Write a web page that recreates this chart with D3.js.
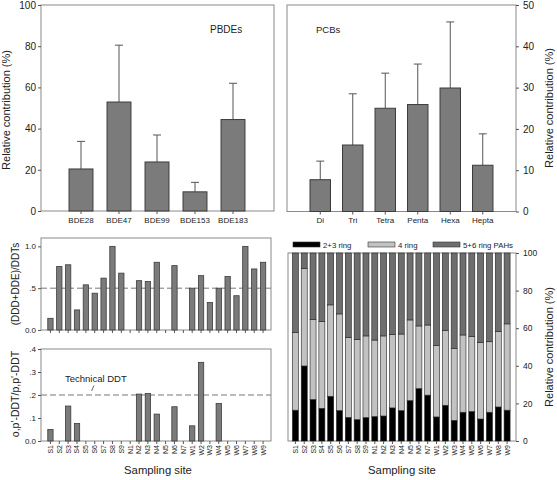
<!DOCTYPE html>
<html><head><meta charset="utf-8">
<script src="https://cdn.jsdelivr.net/npm/d3@7"></script>
<style>
body{margin:0;background:#fff;}
svg{display:block;font-family:"Liberation Sans",Arial,sans-serif;}
</style></head>
<body><svg id="c" width="557" height="480"></svg>
<script>
// ---------- data ----------
const pbdeCats = ["BDE28","BDE47","BDE99","BDE153","BDE183"];
const pbdeMean = [20.4, 52.9, 23.8, 9.3, 44.4];
const pbdeErr  = [13.4, 27.6, 13.1, 4.6, 17.6];
const pbdeTicks = [0,20,40,60,80,100];

const pcbCats = ["Di","Tri","Tetra","Penta","Hexa","Hepta"];
const pcbMean = [7.7, 16.1, 25.0, 25.9, 29.9, 11.2];
const pcbErr  = [4.5, 12.4, 8.5, 9.8, 16.0, 7.6];
const pcbTicks = [0,10,20,30,40,50];

const sites = ["S1","S2","S3","S4","S5","S6","S7","S8","S9","N1","N2","N3","N4","N5","N6","N7","W1","W2","W3","W4","W5","W6","W7","W8","W9"];
const dddRatio = [0.14,0.76,0.78,0.24,0.54,0.44,0.62,1.0,0.68, null,0.59,0.58,0.81,null,0.77,null, 0.50,0.65,0.33,0.50,0.64,0.41,1.0,0.73,0.81];
const dddTicks = [0,0.5,1.0];
const dddTickLabels = ["0.0",".5","1.0"];
const opRatio = [0.05,null,0.152,0.076,null,null,null,null,null, null,0.204,0.207,0.117,null,0.149,null, 0.066,0.342,null,0.163,null,null,null,null,null];
const opTicks = [0,0.1,0.2,0.3,0.4];
const opTickLabels = ["0.0",".1",".2",".3",".4"];

const ringKeys = ["2+3 ring","4 ring","5+6 ring PAHs"];
const ring23 = [16.4,39.9,22.1,17.4,23.8,16.2,12.6,11.4,12.5, 13.0,13.3,17.6,16.2,21.5,27.9,24.4, 12.8,19.0,11.0,15.3,15.7,11.7,15.3,18.1,16.4];
const ring4  = [41.3,51.9,42.5,46.1,48.6,51.4,42.4,42.5,43.4, 40.7,42.6,39.0,40.7,42.9,33.3,37.3, 37.9,39.9,38.1,41.1,39.8,40.6,37.5,40.1,45.9];
const ring56 = [42.3,8.2,35.4,36.5,27.6,32.4,45.0,46.1,44.1, 46.3,44.1,43.4,43.1,35.6,38.8,38.3, 49.3,41.1,50.9,43.6,44.5,47.7,47.2,41.8,37.7];
const pahTicks = [0,20,40,60,80,100];

// ---------- styles ----------
const BAR = "#7b7b7b", BARSTROKE = "#3c3c3c", FRAME = "#8a8a8a", TICK = "#555";
const svg = d3.select("#c");

function frame(x0,x1,y0,y1){
  svg.append("rect").attr("x",x0).attr("y",y0).attr("width",x1-x0).attr("height",y1-y0)
    .attr("fill","none").attr("stroke",FRAME).attr("stroke-width",1);
}
function yAxisLeft(y, x, ticks, labels, fs){
  const g = svg.append("g").attr("transform",`translate(${x},0)`);
  const ax = d3.axisLeft(y).tickValues(ticks).tickSize(3).tickPadding(2);
  if(labels) ax.tickFormat((d,i)=>labels[i]);
  g.call(ax);
  g.select(".domain").remove();
  g.selectAll("line").attr("stroke",TICK);
  g.selectAll("text").attr("font-size",fs).attr("fill","#222").attr("font-family","Liberation Sans, Arial, sans-serif");
}
function yAxisRight(y, x, ticks, fs){
  const g = svg.append("g").attr("transform",`translate(${x},0)`);
  g.call(d3.axisRight(y).tickValues(ticks).tickSize(3).tickPadding(4));
  g.select(".domain").remove();
  g.selectAll("line").attr("stroke",TICK);
  g.selectAll("text").attr("font-size",fs).attr("fill","#222").attr("font-family","Liberation Sans, Arial, sans-serif");
}
function xTicks(x, yb, showLabels, fs, rotate){
  const g = svg.append("g").attr("transform",`translate(0,${yb})`);
  g.call(d3.axisBottom(x).tickSize(3).tickPadding(3));
  g.select(".domain").remove();
  g.selectAll("line").attr("stroke",TICK);
  const t = g.selectAll("text").attr("font-size",fs).attr("fill","#222").attr("font-family","Liberation Sans, Arial, sans-serif");
  if(!showLabels) t.remove();
  else if(rotate){
    t.attr("transform","rotate(-90)").attr("text-anchor","end").attr("x",-4).attr("y",0).attr("dy","0.35em");
  }
}
function vTitle(txt, x, y, fs){
  svg.append("text").attr("transform",`translate(${x},${y}) rotate(-90)`)
    .attr("text-anchor","middle").attr("font-size",fs).attr("fill","#222").text(txt);
}

// ---------- Panel A: PBDEs ----------
{
  const x = d3.scaleBand().domain(pbdeCats).range([62,252]).paddingInner(0.37).paddingOuter(0.185);
  const y = d3.scaleLinear().domain([0,100]).range([211,5]);
  frame(41,274,5,211);
  const d = pbdeCats.map((c,i)=>({c, m:pbdeMean[i], e:pbdeErr[i]}));
  svg.append("g").selectAll("line").data(d).join("line")
    .attr("x1",v=>x(v.c)+x.bandwidth()/2).attr("x2",v=>x(v.c)+x.bandwidth()/2)
    .attr("y1",v=>y(v.m)).attr("y2",v=>y(v.m+v.e)).attr("stroke","#555");
  svg.append("g").selectAll("line").data(d).join("line")
    .attr("x1",v=>x(v.c)+x.bandwidth()/2-4).attr("x2",v=>x(v.c)+x.bandwidth()/2+4)
    .attr("y1",v=>y(v.m+v.e)).attr("y2",v=>y(v.m+v.e)).attr("stroke","#555");
  svg.append("g").selectAll("rect").data(d).join("rect")
    .attr("x",v=>x(v.c)).attr("width",x.bandwidth())
    .attr("y",v=>y(v.m)).attr("height",v=>y(0)-y(v.m))
    .attr("fill",BAR).attr("stroke",BARSTROKE).attr("stroke-width",1);
  yAxisLeft(y,41,pbdeTicks,null,10);
  xTicks(x,211,true,8,false);
  svg.append("text").attr("x",210).attr("y",33).attr("font-size",10).attr("fill","#222").text("PBDEs");
  vTitle("Relative contribution (%)",10,110,11);
}

// ---------- Panel B: PCBs ----------
{
  const x = d3.scaleBand().domain(pcbCats).range([304,499]).paddingInner(0.37).paddingOuter(0.185);
  const y = d3.scaleLinear().domain([0,50]).range([211.5,5]);
  frame(287,516,5,211.5);
  const d = pcbCats.map((c,i)=>({c, m:pcbMean[i], e:pcbErr[i]}));
  svg.append("g").selectAll("line").data(d).join("line")
    .attr("x1",v=>x(v.c)+x.bandwidth()/2).attr("x2",v=>x(v.c)+x.bandwidth()/2)
    .attr("y1",v=>y(v.m)).attr("y2",v=>y(v.m+v.e)).attr("stroke","#555");
  svg.append("g").selectAll("line").data(d).join("line")
    .attr("x1",v=>x(v.c)+x.bandwidth()/2-4).attr("x2",v=>x(v.c)+x.bandwidth()/2+4)
    .attr("y1",v=>y(v.m+v.e)).attr("y2",v=>y(v.m+v.e)).attr("stroke","#555");
  svg.append("g").selectAll("rect").data(d).join("rect")
    .attr("x",v=>x(v.c)).attr("width",x.bandwidth())
    .attr("y",v=>y(v.m)).attr("height",v=>y(0)-y(v.m))
    .attr("fill",BAR).attr("stroke",BARSTROKE).attr("stroke-width",1);
  yAxisRight(y,516,pcbTicks,10);
  xTicks(x,211.5,true,8,false);
  svg.append("text").attr("x",316).attr("y",33).attr("font-size",9.5).attr("fill","#222").text("PCBs");
  vTitle("Relative contribution (%)",553,108,11);
}

// ---------- Panel C: (DDD+DDE)/DDTs ----------
const xs = d3.scaleBand().domain(sites).range([46,267.5]).paddingInner(0.4).paddingOuter(0.2);
{
  const y = d3.scaleLinear().domain([0,1.1]).range([330,238]);
  frame(41,271,238,330);
  const d = sites.map((s,i)=>({s,v:dddRatio[i]})).filter(o=>o.v!==null);
  svg.append("line").attr("x1",41).attr("x2",271).attr("y1",y(0.5)).attr("y2",y(0.5))
    .attr("stroke","#777").attr("stroke-dasharray","6,3").attr("stroke-width",1);
  svg.append("g").selectAll("rect").data(d).join("rect")
    .attr("x",o=>xs(o.s)).attr("width",xs.bandwidth())
    .attr("y",o=>y(o.v)).attr("height",o=>y(0)-y(o.v))
    .attr("fill",BAR).attr("stroke",BARSTROKE).attr("stroke-width",0.8);
  yAxisLeft(y,41,dddTicks,dddTickLabels,8);
  xTicks(xs,330,false,7,false);
  vTitle("(DDD+DDE)/DDTs",19,284,10);
}

// ---------- Panel D: o,p'-DDT/p,p'-DDT ----------
{
  const y = d3.scaleLinear().domain([0,0.4]).range([441,349]);
  frame(41,271,349,441);
  const d = sites.map((s,i)=>({s,v:opRatio[i]})).filter(o=>o.v!==null);
  svg.append("line").attr("x1",41).attr("x2",271).attr("y1",y(0.2)).attr("y2",y(0.2))
    .attr("stroke","#777").attr("stroke-dasharray","6,3").attr("stroke-width",1);
  svg.append("g").selectAll("rect").data(d).join("rect")
    .attr("x",o=>xs(o.s)).attr("width",xs.bandwidth())
    .attr("y",o=>y(o.v)).attr("height",o=>y(0)-y(o.v))
    .attr("fill",BAR).attr("stroke",BARSTROKE).attr("stroke-width",0.8);
  yAxisLeft(y,41,opTicks,opTickLabels,8);
  xTicks(xs,441,true,7,true);
  svg.append("text").attr("x",65).attr("y",382).attr("font-size",9.5).attr("fill","#222").text("Technical DDT");
  svg.append("line").attr("x1",94).attr("y1",385.5).attr("x2",91.5).attr("y2",391).attr("stroke","#444").attr("stroke-width",0.8);
  vTitle("o,p'-DDT/p,p'-DDT",19,394,10.5);
  svg.append("text").attr("x",158).attr("y",474).attr("text-anchor","middle").attr("font-size",11.3).attr("fill","#222").text("Sampling site");
}

// ---------- Panel E: PAHs stacked ----------
{
  const xr = d3.scaleBand().domain(sites).range([291,511.5]).paddingInner(0.32).paddingOuter(0.16);
  const y = d3.scaleLinear().domain([0,100]).range([441,253]);
  const rows = sites.map((s,i)=>({site:s,"2+3 ring":ring23[i],"4 ring":ring4[i],"5+6 ring PAHs":ring56[i]}));
  const stack = d3.stack().keys(ringKeys)(rows);
  const col = d3.scaleOrdinal().domain(ringKeys).range(["#000000","#c2c2c2","#6e6e6e"]);
  frame(288,516,253,441);
  svg.append("g").selectAll("g").data(stack).join("g").attr("fill",s=>col(s.key))
    .selectAll("rect").data(s=>s).join("rect")
    .attr("x",d=>xr(d.data.site)).attr("width",xr.bandwidth())
    .attr("y",d=>y(d[1])).attr("height",d=>y(d[0])-y(d[1]))
    .attr("stroke","#222").attr("stroke-width",0.6);
  yAxisRight(y,516,pahTicks,8.5);
  xTicks(xr,441,true,7,true);
  vTitle("Relative contribution (%)",553,347,11);
  svg.append("text").attr("x",402).attr("y",474).attr("text-anchor","middle").attr("font-size",11.3).attr("fill","#222").text("Sampling site");
  // legend
  const lx = [293,368,433];
  const lg = svg.append("g");
  ringKeys.forEach((k,i)=>{
    lg.append("rect").attr("x",lx[i]).attr("y",242).attr("width",27).attr("height",5)
      .attr("fill",col(k)).attr("stroke","#333").attr("stroke-width",0.6);
    lg.append("text").attr("x",lx[i]+30).attr("y",248).attr("font-size",7.8).attr("fill","#222").text(k);
  });
}
</script>
</body></html>
